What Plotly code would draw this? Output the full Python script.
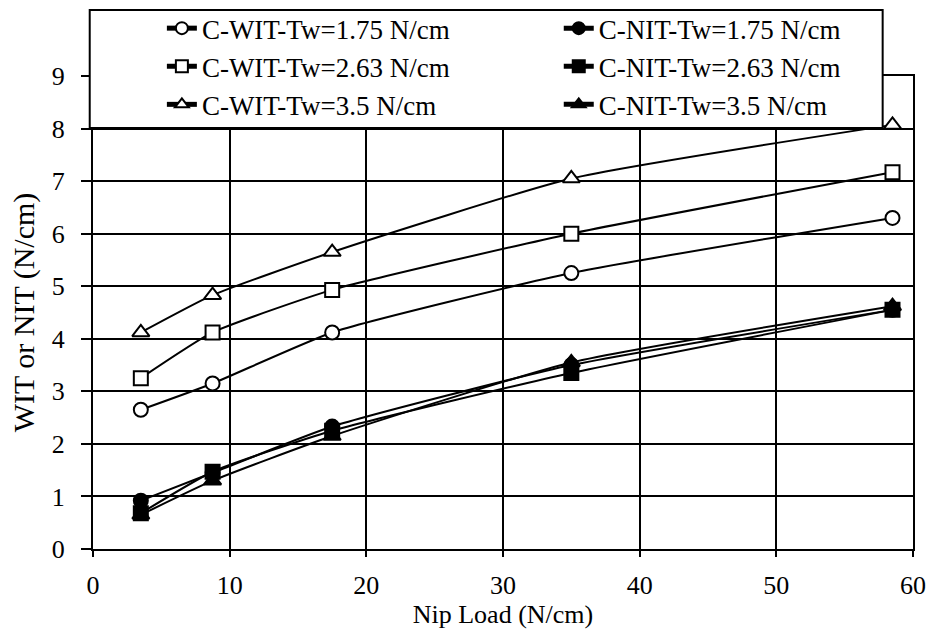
import plotly.graph_objects as go

nip_load = [3.5, 8.75, 17.5, 35, 58.5]
wit_175 = [2.65, 3.15, 4.12, 5.25, 6.30]
wit_263 = [3.25, 4.12, 4.93, 6.00, 7.17]
wit_350 = [4.12, 4.83, 5.65, 7.05, 8.07]
nit_175 = [0.92, 1.45, 2.33, 3.50, 4.55]
nit_263 = [0.68, 1.47, 2.25, 3.35, 4.55]
nit_350 = [0.65, 1.30, 2.15, 3.55, 4.62]

x_ticks = [0, 10, 20, 30, 40, 50, 60]
y_ticks = [0, 1, 2, 3, 4, 5, 6, 7, 8, 9]

series = [
    ("C-WIT-Tw=1.75 N/cm", wit_175, "circle", "white", "legend"),
    ("C-WIT-Tw=2.63 N/cm", wit_263, "square", "white", "legend"),
    ("C-WIT-Tw=3.5 N/cm", wit_350, "triangle-up", "white", "legend"),
    ("C-NIT-Tw=1.75 N/cm", nit_175, "circle", "black", "legend2"),
    ("C-NIT-Tw=2.63 N/cm", nit_263, "square", "black", "legend2"),
    ("C-NIT-Tw=3.5 N/cm", nit_350, "triangle-up", "black", "legend2"),
]

FONT = "Liberation Serif"
FS = 26
fig = go.Figure()
for i, (name, ys, sym, fill, leg) in enumerate(series):
    fig.add_trace(go.Scatter(
        x=nip_load, y=ys, name=name, mode="lines+markers",
        line=dict(color="black", width=2, shape="spline", smoothing=0.5),
        marker=dict(symbol=sym, size=14 if sym != "triangle-up" else 15,
                    color=fill, line=dict(color="black", width=2)),
        legend=leg, legendgroup=f"g{i}",
    ))

legend_common = dict(
    font=dict(family=FONT, size=27, color="black"),
    bgcolor="rgba(0,0,0,0)", borderwidth=0,
    orientation="v", yanchor="top", xanchor="left",
    tracegroupgap=0, itemsizing="constant",
)

fig.update_layout(
    width=933, height=636,
    margin=dict(l=93, r=20, t=76, b=87, autoexpand=False),
    paper_bgcolor="white", plot_bgcolor="white",
    font=dict(family=FONT, size=FS, color="black"),
    showlegend=True,
    legend=dict(x=0.084, y=1.152, **legend_common),
    legend2=dict(x=0.568, y=1.152, **legend_common),
    xaxis=dict(
        range=[0, 60], tickvals=x_ticks, ticktext=[str(v) for v in x_ticks],
        showgrid=True, gridcolor="black", gridwidth=2,
        showline=True, linecolor="black", linewidth=2, mirror=True,
        ticks="outside", ticklen=6, tickwidth=2, tickcolor="black",
        zeroline=False, ticklabelstandoff=6,
        title=dict(text="Nip Load (N/cm)", font=dict(family=FONT, size=FS), standoff=4),
        tickfont=dict(family=FONT, size=FS),
    ),
    yaxis=dict(
        range=[0, 9], tickvals=y_ticks, ticktext=[str(v) for v in y_ticks],
        showgrid=True, gridcolor="black", gridwidth=2,
        showline=True, linecolor="black", linewidth=2, mirror=True,
        ticks="outside", ticklen=10, tickwidth=2, tickcolor="black",
        zeroline=False, ticklabelstandoff=11,
        title=dict(text="WIT or NIT (N/cm)", font=dict(family=FONT, size=30), standoff=8),
        tickfont=dict(family=FONT, size=FS),
    ),
    shapes=[dict(
        type="rect", xref="paper", yref="paper",
        x0=-0.004, x1=0.963, y0=(549 - 128) / 473, y1=(549 - 10) / 473,
        fillcolor="white", line=dict(color="black", width=2), layer="above",
    )],
)

fig.write_html("out.html")
